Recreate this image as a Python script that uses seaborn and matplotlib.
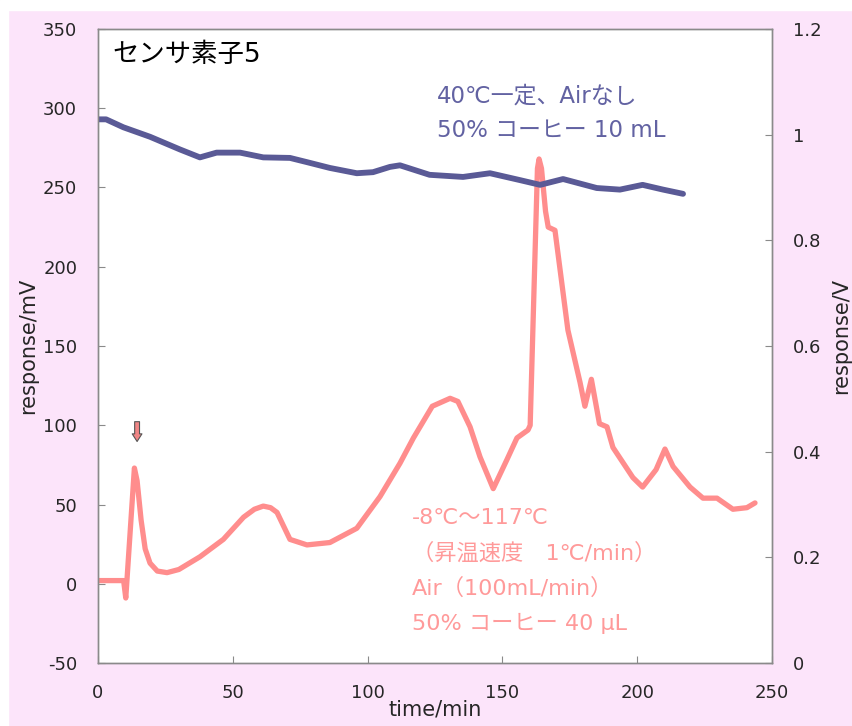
"""Sensor element 5: response vs time, two runs on twin y axes."""

import matplotlib.pyplot as plt
import seaborn as sns
from matplotlib.patches import Rectangle
from matplotlib.ticker import FuncFormatter

# temperature-ramp run, response in mV (left axis)
ramp_time = [0, 5, 9.5, 10.3, 13.5, 14.5, 16, 17.5, 19.3, 22, 25.6, 30, 37.8,
             46.5, 54, 58, 61.3, 64, 66.4, 71.2, 77.5, 86, 96, 104.6, 112, 117,
             124, 130.6, 133.5, 138, 141.7, 146.6, 151.6, 155.4, 159.5, 160.3,
             163, 163.6, 164.5, 166, 167, 169.5, 174.3, 178.8, 180.6, 183, 186,
             188.8, 191, 198.4, 202, 207, 210.3, 213.3, 219.6, 224.4, 229.6,
             235.5, 240.7, 243.7]
ramp_mv = [2, 2, 2, -9, 73, 65, 40, 22, 13, 8, 7, 9, 17,
           28, 42, 47, 49, 48, 45, 28, 24.5, 26, 35, 55, 76, 92,
           112, 117, 115, 99, 80, 60, 78, 92, 97, 100,
           262, 268, 262, 235, 225, 223, 160, 127, 112, 129, 101,
           99, 86, 67, 61, 72, 85, 74, 61, 54, 54,
           47, 48, 51]

# constant 40 C run, response in V (right axis)
const_time = [0, 3, 9.4, 19.3, 30.4, 37.8, 44, 52.7, 61.3, 71.2, 77.5, 86, 96,
              102, 108.3, 112, 123, 135.4, 145.4, 156.5, 164, 172.5, 185,
              193.6, 202, 209.6, 217]
const_v = [1.029, 1.029, 1.014, 0.996, 0.972, 0.957, 0.966, 0.966, 0.957,
           0.956, 0.948, 0.937, 0.927, 0.929, 0.939, 0.942, 0.924, 0.920,
           0.927, 0.914, 0.905, 0.916, 0.899, 0.896, 0.905, 0.896, 0.888]

left_ticks = list(range(-50, 351, 50))
right_ticks = [0, 0.2, 0.4, 0.6, 0.8, 1.0, 1.2]
x_ticks = list(range(0, 251, 50))

blue_notes = ["40℃一定、Airなし", "50% コーヒー 10 mL"]
pink_notes = ["-8℃～117℃", "（昇温速度　1℃/min）", "Air（100mL/min）", "50% コーヒー 40 μL"]

PINK = "#FF8D8D"
BLUE = "#5A5A96"
BG = "#FCE4FA"
DARK = "#262626"

sns.set_style("ticks")
plt.rcParams["font.family"] = ["DejaVu Sans", "Noto Sans CJK JP"]
plt.rcParams["axes.unicode_minus"] = False

fig = plt.figure(figsize=(8.53, 7.26), dpi=100, facecolor=BG)
fig.add_artist(Rectangle((0, 1 - 10 / 726), 1, 10 / 726, transform=fig.transFigure,
                         color="white", zorder=-1))
fig.add_artist(Rectangle((0, 0), 8 / 853, 1, transform=fig.transFigure,
                         color="white", zorder=-1))

ax = fig.add_axes([98 / 853, 63 / 726, 674 / 853, 634 / 726])
ax.set_facecolor("white")
ax2 = ax.twinx()

sns.lineplot(x=ramp_time, y=ramp_mv, ax=ax, color=PINK, linewidth=3.8,
             estimator=None, sort=False)
sns.lineplot(x=const_time, y=const_v, ax=ax2, color=BLUE, linewidth=4.2,
             estimator=None, sort=False)

ax.set_xlim(0, 250)
ax.set_ylim(-50, 350)
ax2.set_ylim(0, 1.2)
ax.set_xticks(x_ticks)
ax.set_yticks(left_ticks)
ax2.set_yticks(right_ticks)
ax2.yaxis.set_major_formatter(FuncFormatter(lambda v, _: f"{v:g}"))

for a in (ax, ax2):
    for sp in a.spines.values():
        sp.set_visible(True)
        sp.set_color("#8a8a8a")
        sp.set_linewidth(1.0)
    a.tick_params(direction="in", length=5, width=0.8, color="#8a8a8a",
                  labelsize=13, pad=15, labelcolor=DARK)

ax.set_xlabel("time/min", fontsize=15, color=DARK)
ax.set_ylabel("response/mV", fontsize=15, color=DARK)
ax2.set_ylabel("response/V", fontsize=15, color=DARK)
ax.xaxis.set_label_coords(0.50, -0.057)
ax.yaxis.set_label_coords(-0.089, 0.50)
ax2.yaxis.set_label_coords(1.088, 0.515)

ax.text(0.022, 0.959, "センサ素子5", transform=ax.transAxes, fontsize=19,
        va="center", ha="left", color="black")
for i, line in enumerate(blue_notes):
    ax.text(0.503, 0.895 - i * 0.055, line, transform=ax.transAxes, fontsize=16.5,
            va="center", ha="left", color="#6262A2")
for i, line in enumerate(pink_notes):
    ax.text(116.5, 41.5 - i * 22.1, line, fontsize=16, va="center", ha="left",
            color="#FF9A9A")

ax.annotate("", xy=(14.5, 88), xytext=(14.5, 104),
            arrowprops=dict(arrowstyle="simple,head_width=0.7,head_length=0.55,tail_width=0.35",
                            fc="#F08585", ec="#555555", lw=0.8))

fig.savefig("out.png", dpi=100, facecolor=BG)
